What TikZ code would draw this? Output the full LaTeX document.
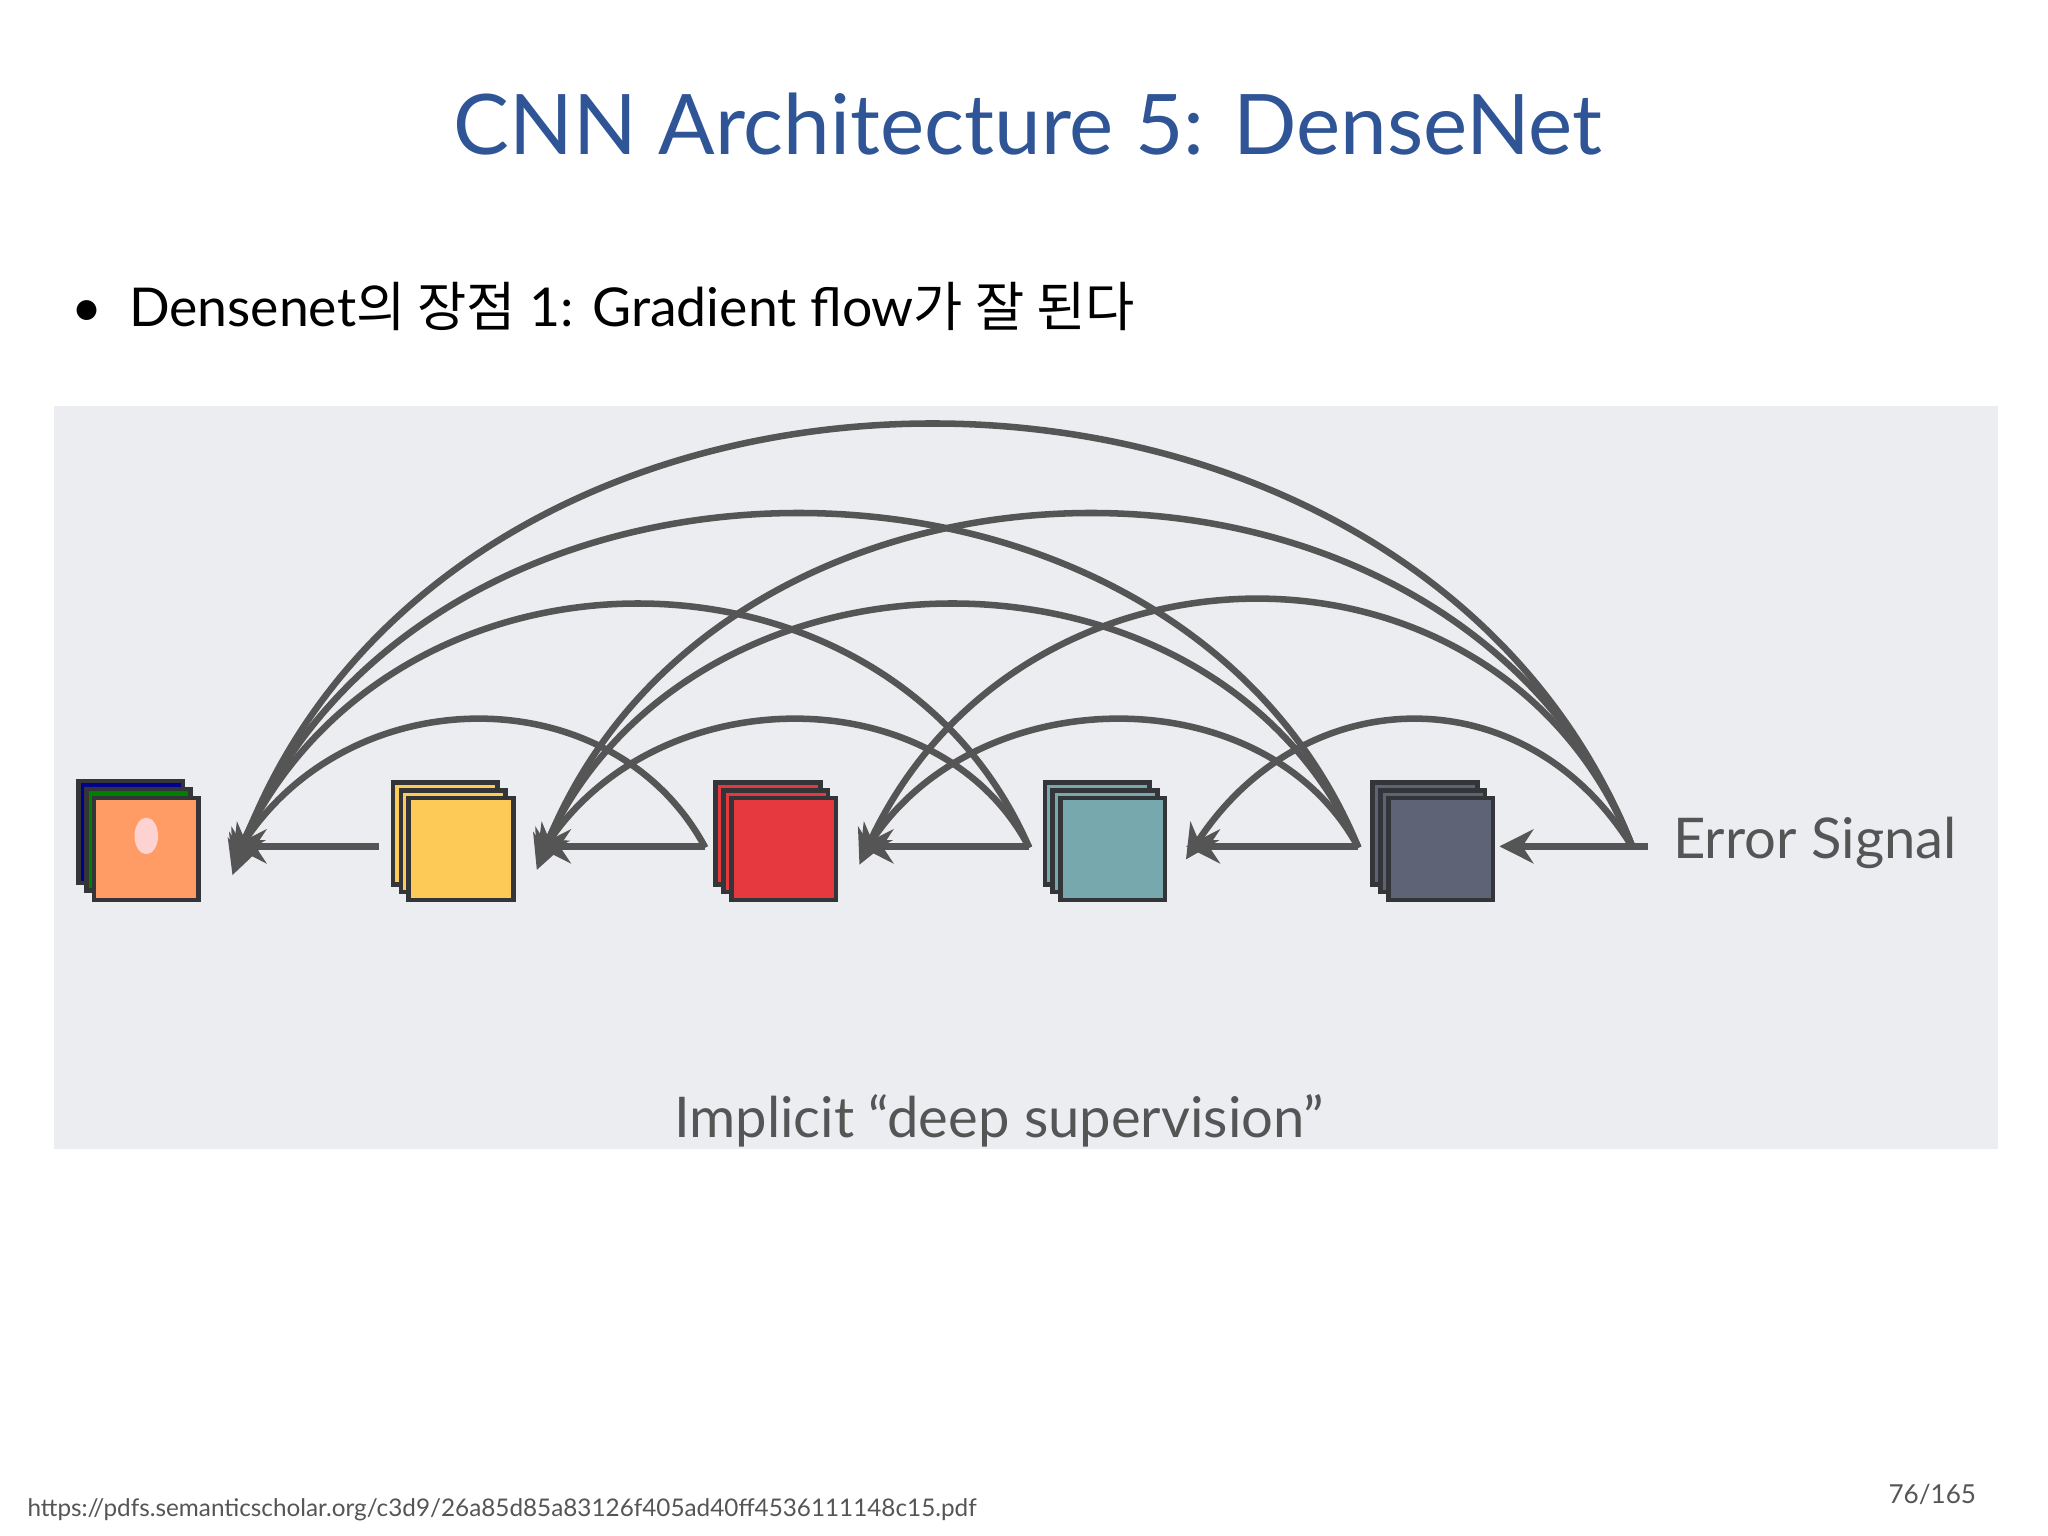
\documentclass[tikz,border=0pt]{standalone}
\usepackage{fontspec}
\setmainfont{Lato}
\newfontfamily\kr{Noto Sans CJK KR}
\usetikzlibrary{arrows.meta}
\definecolor{titleblue}{HTML}{2F5597}
\definecolor{panel}{HTML}{ECEDF1}
\definecolor{arc}{HTML}{555555}
\definecolor{edge}{HTML}{333538}
\definecolor{cyel}{HTML}{FDC957}
\definecolor{cred}{HTML}{E5383F}
\definecolor{cteal}{HTML}{76A8AE}
\definecolor{cdark}{HTML}{5E6476}
\tikzset{
 conn/.style={draw=arc,line width=2.5pt,-{Stealth[length=13pt,width=13pt]}},
 layer/.style={draw=edge,line width=1.8pt,minimum width=40pt,minimum height=39pt,inner sep=0pt},
}
\begin{document}
\begin{tikzpicture}[x=0.5pt,y=-0.5pt]
\useasboundingbox (0,0) rectangle (1568,1176);
\fill[white] (0,0) rectangle (1568,1176);
\fill[panel] (41,311) rectangle (1530,880);
\node[text=titleblue,font=\fontsize{32}{38}\selectfont] (title) at (787,95) {CNN Architecture 5: DenseNet};
\node[anchor=west,font=\fontsize{20.5}{24}\selectfont] (bullet) at (48,235) {\textbullet\hspace{10pt}Densenet{\kr 의 장점} 1: Gradient flow{\kr 가 잘 된다}};
% blocks
\newcommand\stk[4]{%
 \node[layer,fill=#3] (#1c) at (#2,#4-12) {};
 \node[layer,fill=#3] (#1b) at (#2+6,#4-6) {};
 \node[layer,fill=#3] (#1) at (#2+12,#4) {};}
\node[layer,fill=blue!55!black] (catc) at (100,637) {};
\node[layer,fill=green!50!black] (catb) at (106,643) {};
\node[layer,fill=orange!70!red!60!white] (cat) at (112,650) {};
\fill[pink!70] (112,640) ellipse (9 and 14);
\stk{yel}{341}{cyel}{650}
\stk{red}{588}{cred}{650}
\stk{teal}{840}{cteal}{650}
\stk{dark}{1091}{cdark}{650}
% arrow targets and sources
\coordinate (t0) at (178,648); \coordinate (t1) at (411,648); \coordinate (t2) at (658,648);
\coordinate (t3) at (908,648); \coordinate (t4) at (1148,648);
\coordinate (s1) at (290,648); \coordinate (s2) at (540,648); \coordinate (s3) at (788,648);
\coordinate (s4) at (1040,648); \coordinate (s5) at (1262,648);
\coordinate (r2) at (540,649); \coordinate (r3) at (788,649); \coordinate (r4) at (1040,649); \coordinate (r5) at (1250,649);
\draw[conn] (s1) -- (t0); \draw[conn] (s2) -- (t1); \draw[conn] (s3) -- (t2);
\draw[conn] (s4) -- (t3); \draw[conn] (s5) -- (t4);
% span 1
\draw[conn] (r2) .. controls (470,518) and (270,518) .. ([yshift=-5]t0);
\draw[conn] (r3) .. controls (720,518) and (505,518) .. ([yshift=-5]t1);
\draw[conn] (r4) .. controls (970,518) and (750,518) .. ([yshift=-5]t2);
\draw[conn] (r5) .. controls (1170,518) and (1000,518) .. ([yshift=-5]t3);
% span 2
\draw[conn] (r3) .. controls (680,400) and (300,400) .. ([yshift=-7]t0);
\draw[conn] (r4) .. controls (930,400) and (530,400) .. ([yshift=-7]t1);
\draw[conn] (r5) .. controls (1150,395) and (780,395) .. ([yshift=-7]t2);
% span 3
\draw[conn] (r4) .. controls (900,307) and (320,307) .. ([yshift=-9]t0);
\draw[conn] (r5) .. controls (1120,307) and (550,307) .. ([yshift=-9]t1);
% span 4
\draw[conn] (r5) .. controls (1080,215) and (340,215) .. ([yshift=-11]t0);
\node[anchor=west,text=arc,font=\fontsize{21.5}{26}\selectfont] (err) at (1274,645) {Error Signal};
\node[text=arc,font=\fontsize{21.5}{24}\selectfont] (impl) at (765,858) {Implicit “deep supervision”};
\node[anchor=west,text=arc,font=\fontsize{9.3}{12}\selectfont] (url) at (14,1156) {https://pdfs.semanticscholar.org/c3d9/26a85d85a83126f405ad40ff4536111148c15.pdf};
\node[anchor=east,text=arc,font=\fontsize{10}{12}\selectfont] (pg) at (1520,1144) {76/165};
\end{tikzpicture}
\end{document}
